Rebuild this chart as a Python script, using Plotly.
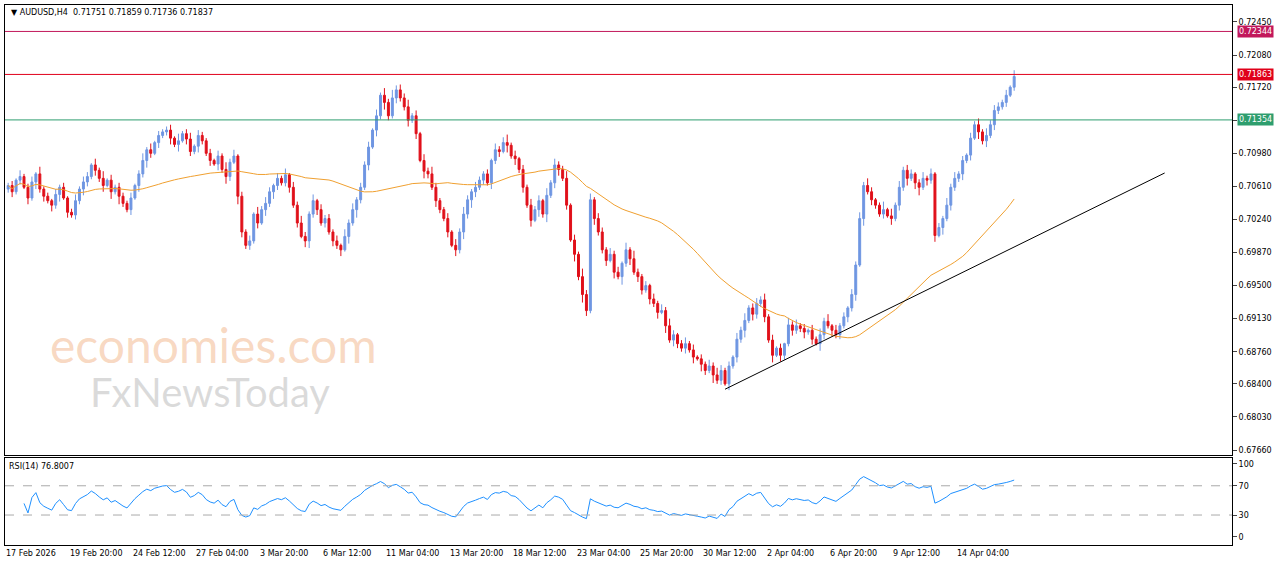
import numpy as np
import pandas as pd
import plotly.graph_objects as go
from plotly.subplots import make_subplots

# closes in 1e-4 units
closes = [
7062,7055,7068,7072,7060,7048,7066,7075,7058,7050,
7045,7040,7052,7060,7048,7032,7029,7045,7058,7066,
7072,7085,7079,7070,7062,7068,7055,7060,7050,7042,
7035,7048,7062,7075,7090,7102,7098,7110,7118,7122,
7124,7115,7108,7112,7120,7114,7100,7106,7118,7112,
7098,7090,7086,7095,7080,7072,7088,7095,7050,7010,
6995,7000,7030,7020,7035,7042,7055,7062,7070,7065,
7074,7060,7040,7020,7005,7000,7030,7045,7035,7020,
7025,7010,7000,6995,6990,7005,7020,7035,7046,7060,
7085,7105,7124,7140,7163,7155,7140,7160,7169,7160,
7150,7135,7140,7120,7090,7078,7075,7060,7045,7035,
7025,7010,6995,6990,7010,7030,7046,7055,7060,7068,
7075,7065,7090,7102,7100,7110,7107,7095,7092,7080,
7060,7040,7023,7035,7045,7030,7051,7065,7085,7080,
7070,7040,7001,6985,6960,6940,6922,7046,7025,7010,
6990,6978,6985,6965,6960,6975,6990,6980,6965,6960,
6945,6950,6935,6930,6920,6922,6905,6889,6895,6885,
6880,6885,6878,6870,6868,6862,6855,6860,6850,6844,
6855,6840,6860,6870,6890,6900,6911,6925,6918,6930,
6934,6915,6889,6872,6880,6872,6885,6906,6900,6905,
6902,6898,6900,6890,6885,6895,6910,6905,6900,6895,
6905,6915,6925,6940,6973,7025,7062,7055,7046,7040,
7030,7035,7028,7025,7040,7060,7079,7070,7075,7065,
7060,7070,7068,7075,7006,7015,7025,7040,7060,7070,
7075,7090,7096,7115,7130,7122,7112,7118,7130,7146,
7150,7155,7163,7172,7184]
first_open = 7058
wick_up = [int(c) for c in (
"3527346283" "4263524736" "5273826354" "3624837253" "4628357264"
"3526384725" "3628475263" "7264853726" "4536284735" "4627384956"
"5836274853" "3627485364" "3527469362" "5374628374" "4826395736"
"5374628394" "3526374852" "4736253748" "6352748356" "4736251847"
"3526374826" "3526474852" "3928374652" "4736253847" "3526473856"
"53627")]
wick_dn = [int(c) for c in (
"4635273846" "3748263547" "5364728394" "3627485263" "4738265374"
"3627485296" "4536274853" "4635278463" "5364728394" "3627485364"
"4736285374" "3627485963" "5374628374" "6372849367" "3528496374"
"4627394736" "5364728375" "4637285394" "5273648375" "4638275364"
"4736285374" "5364728364" "3527364837" "9364728364" "4736284736"
"43524")]

xlabels = ["17 Feb 2026","19 Feb 20:00","24 Feb 12:00","27 Feb 04:00","3 Mar 20:00",
           "6 Mar 12:00","11 Mar 04:00","13 Mar 20:00","18 Mar 12:00","23 Mar 04:00",
           "25 Mar 20:00","30 Mar 12:00","2 Apr 04:00","6 Apr 20:00","9 Apr 12:00","14 Apr 04:00"]
xlabel_idx = [0,16,32,48,64,80,96,112,128,144,160,176,192,208,224,240]
price_ticks = [0.72450,0.72080,0.71720,0.71350,0.70980,0.70610,0.70240,0.69870,
               0.69500,0.69130,0.68760,0.68400,0.68030,0.67660]
levels = [0.72344, 0.71863, 0.71354]
level_colors = ["#c2185b", "#e0001a", "#2e9e6e"]
trend_x = [181, 292]
trend_y = [0.68340, 0.70760]

c = np.array(closes) / 10000.0
o = np.concatenate([[first_open / 10000.0], c[:-1]])
h = np.maximum(o, c) + np.array(wick_up[:len(c)]) / 10000.0
l = np.minimum(o, c) - np.array(wick_dn[:len(c)]) / 10000.0
idx = np.arange(len(c))

ma = pd.Series(c).rolling(50, min_periods=1).mean()
delta = pd.Series(c).diff()
gain = delta.clip(lower=0).ewm(alpha=1/14, adjust=True).mean()
loss = (-delta.clip(upper=0)).ewm(alpha=1/14, adjust=True).mean()
rsi = 100 - 100 / (1 + gain / loss)
rsi[:4] = np.nan

fig = make_subplots(rows=2, cols=1, shared_xaxes=True, row_heights=[450, 87],
                    vertical_spacing=3/540)

fig.add_trace(go.Candlestick(x=idx, open=o, high=h, low=l, close=c,
    increasing=dict(line=dict(color="#6f96e2", width=1), fillcolor="#6f96e2"),
    decreasing=dict(line=dict(color="#e0101a", width=1), fillcolor="#e0101a"),
    whiskerwidth=0, showlegend=False), row=1, col=1)
fig.add_trace(go.Scatter(x=idx, y=ma, mode="lines", line=dict(color="#f0a030", width=1),
                         showlegend=False), row=1, col=1)
fig.add_trace(go.Scatter(x=trend_x, y=trend_y, mode="lines", line=dict(color="black", width=1),
                         showlegend=False), row=1, col=1)
for lv, col in zip(levels, level_colors):
    fig.add_hline(y=lv, line=dict(color=col, width=1), row=1, col=1)
    fig.add_annotation(x=1.0, xref="paper", y=lv, yref="y", text=f"{lv:.5f}", showarrow=False,
                       xanchor="left", xshift=5, bgcolor=col, font=dict(color="white", size=8,
                       family="DejaVu Sans"), borderpad=1)

fig.add_trace(go.Scatter(x=idx, y=rsi, mode="lines", line=dict(color="#1e90ff", width=1),
                         showlegend=False), row=2, col=1)
for lv in [70, 30]:
    fig.add_hline(y=lv, line=dict(color="#aaaaaa", width=1, dash="dash"), row=2, col=1)

axfont = dict(family="DejaVu Sans", size=8, color="black")
fig.update_xaxes(range=[-0.8, 309], showgrid=False, showline=True, mirror=True, linecolor="black",
                 rangeslider_visible=False, showticklabels=False, zeroline=False, automargin=False)
fig.update_yaxes(row=1, col=1, range=[0.67604, 0.72640], side="right", tickvals=price_ticks,
                 ticktext=[f"{t:.5f}" for t in price_ticks], tickfont=axfont, showgrid=False,
                 showline=True, mirror=True, linecolor="black", ticks="outside", ticklen=4,
                 zeroline=False, automargin=False)
fig.update_yaxes(row=2, col=1, range=[-11, 108], side="right", tickvals=[100, 70, 30, 0],
                 tickfont=axfont, showgrid=False, showline=True, mirror=True, linecolor="black",
                 ticks="outside", ticklen=4, zeroline=False, automargin=False)

for xi, txt in zip(xlabel_idx, xlabels):
    fig.add_annotation(x=xi, xref="x2", y=-0.004, yref="paper", yanchor="top", xanchor="left",
                       xshift=-4, text=txt, showarrow=False, font=axfont)

fig.add_annotation(x=0.003, y=0.998, xref="paper", yref="paper", xanchor="left", yanchor="top",
                   text="▼ AUDUSD,H4  0.71751 0.71859 0.71736 0.71837", showarrow=False, font=axfont)
fig.add_annotation(x=0.002, y=0.158, xref="paper", yref="paper", xanchor="left", yanchor="top",
                   text="RSI(14) 76.8007", showarrow=False, font=axfont)
fig.add_annotation(x=0.035, y=0.372, xref="paper", yref="paper", xanchor="left", yanchor="middle",
                   text="economies.com", showarrow=False,
                   font=dict(family="Lato", size=48, color="rgba(240,170,120,0.45)"))
fig.add_annotation(x=0.068, y=0.284, xref="paper", yref="paper", xanchor="left", yanchor="middle",
                   text="FxNewsToday", showarrow=False,
                   font=dict(family="Lato", size=40, color="rgba(150,150,150,0.35)"))

fig.update_layout(width=1280, height=567, margin=dict(l=5, r=48, t=5, b=22, autoexpand=False),
                  paper_bgcolor="white", plot_bgcolor="white")
fig.write_html("out.html", config={"displayModeBar": False},
               post_script="document.body.style.margin='0';")
